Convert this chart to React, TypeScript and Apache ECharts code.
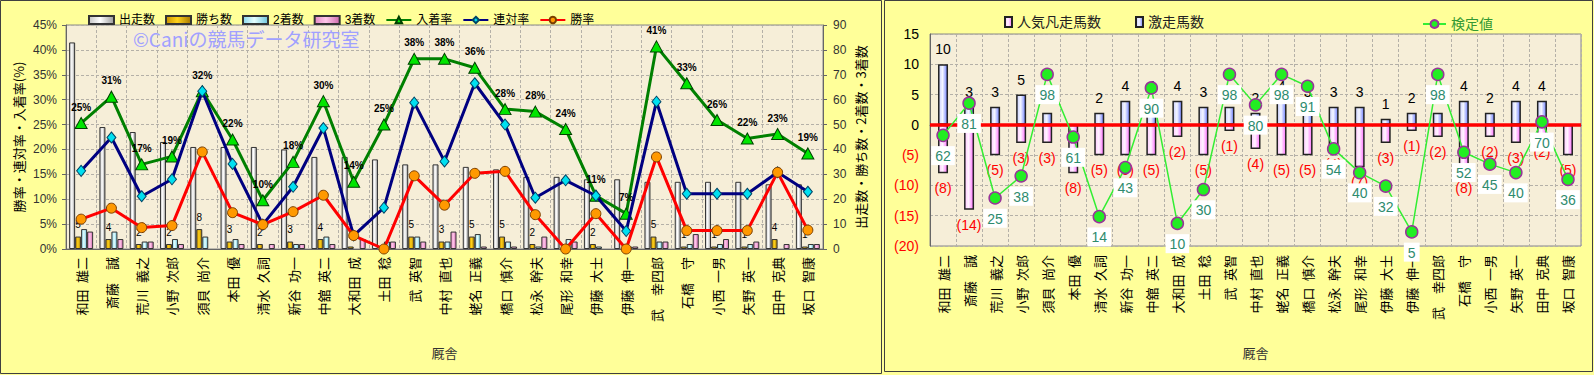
import React, { useEffect, useRef } from 'react';
import * as echarts from 'echarts';

// ---------- data ----------
const trainers = [
  '和田 雄二', '斎藤　誠', '荒川 義之', '小野 次郎', '須貝 尚介', '本田 優', '清水 久詞',
  '新谷 功一', '中舘 英二', '大和田 成', '土田 稔', '武 英智', '中村 直也', '蛯名 正義',
  '橋口 慎介', '松永 幹夫', '尾形 和幸', '伊藤 大士', '伊藤 伸一', '武　幸四郎', '石橋　守',
  '小西 一男', '矢野 英一', '田中 克典', '坂口 智康',
];

// left chart (counts on right axis, rates on left axis)
const starts = [83, 49, 47, 43, 41, 41, 41, 40, 37, 37, 36, 34, 34, 33, 32, 29, 29, 28, 28, 27, 27, 27, 27, 26, 26];
const wins = [5, 4, 2, 2, 8, 3, 2, 3, 4, 1, 0, 5, 3, 5, 5, 2, 0, 2, 0, 5, 1, 1, 1, 4, 1];
const seconds = [8, 7, 3, 4, 5, 4, 0, 2, 5, 0, 3, 5, 3, 6, 3, 1, 4, 1, 1, 3, 2, 2, 2, 0, 2];
const thirds = [7, 4, 3, 2, 0, 2, 2, 2, 2, 4, 3, 3, 7, 1, 1, 5, 3, 0, 1, 3, 6, 4, 3, 2, 2];
const placeRate = [25.3, 30.6, 17.0, 18.6, 31.7, 22.0, 9.8, 17.5, 29.7, 13.5, 25.0, 38.2, 38.2, 36.4, 28.1, 27.6, 24.1, 10.7, 7.1, 40.7, 33.3, 25.9, 22.2, 23.1, 19.2];
const quinellaRate = [15.7, 22.4, 10.6, 14.0, 31.7, 17.1, 4.9, 12.5, 24.3, 2.7, 8.3, 29.4, 17.6, 33.3, 25.0, 10.3, 13.8, 10.7, 3.6, 29.6, 11.1, 11.1, 11.1, 15.4, 11.5];
const winRate = [6.0, 8.2, 4.3, 4.7, 19.5, 7.3, 4.9, 7.5, 10.8, 2.7, 0, 14.7, 8.8, 15.2, 15.6, 6.9, 0, 7.1, 0, 18.5, 3.7, 3.7, 3.7, 15.4, 3.8];

// right chart
const gekisou = [10, 3, 3, 5, 2, 0, 2, 4, 4, 4, 3, 3, 2, 4, 3, 3, 3, 1, 2, 2, 4, 2, 4, 4, 0];
const ninkiBonsou = [8, 14, 5, 3, 3, 8, 5, 5, 5, 2, 5, 1, 4, 5, 5, 4, 7, 3, 1, 2, 8, 2, 3, 2, 5];
const kenteichi = [62, 81, 25, 38, 98, 61, 14, 43, 90, 10, 30, 98, 80, 98, 91, 54, 40, 32, 5, 98, 52, 45, 40, 70, 36];

const FONT = "'Liberation Sans', 'Noto Sans CJK JP', sans-serif";
const JFONT = "'Noto Sans CJK JP', sans-serif";

// wider (en) space between family and given name, as in the original axis labels
const axisName = (s: string) => s.replace(/ /g, '\u2002');

const grad = (a: string, b: string, c: string) =>
  new echarts.graphic.LinearGradient(0, 0, 1, 0, [
    { offset: 0, color: a },
    { offset: 0.45, color: b },
    { offset: 1, color: c },
  ]);

const noZero = (arr: number[]) => arr.map((v) => (v === 0 ? '-' : v));

export default function App() {
  const ref = useRef<HTMLDivElement>(null);

  useEffect(() => {
    if (!ref.current) return;
    const chart = echarts.init(ref.current, undefined, { renderer: 'svg' });

    const gridLine = { show: true, lineStyle: { color: '#b4b0a8', type: [3, 2] as any, width: 1 } };
    const xLabel = (margin: number) => ({
      rotate: 90, interval: 0, fontSize: 13, color: '#000', margin, fontFamily: JFONT,
      formatter: (v: string) => axisName(v),
    });

    const option: any = {
      animation: false,
      backgroundColor: '#ffff99',
      textStyle: { fontFamily: FONT },
      graphic: [
        { type: 'rect', shape: { x: 0.5, y: 0.5, width: 881, height: 373 }, style: { fill: 'none', stroke: '#404040', lineWidth: 1 } },
        { type: 'rect', shape: { x: 884.5, y: 0.5, width: 708, height: 371 }, style: { fill: 'none', stroke: '#404040', lineWidth: 1 } },
        {
          type: 'text', left: 133, top: 29, z: 50,
          style: { text: '©Caniの競馬データ研究室', fill: '#a0a0ff', font: `19px ${JFONT}` },
        },
      ],
      legend: [
        {
          left: 83, top: 9, itemWidth: 25, itemHeight: 8, itemGap: 10,
          textStyle: { fontSize: 12, color: '#000', fontFamily: FONT },
          data: [
            { name: '出走数', icon: 'rect' },
            { name: '勝ち数', icon: 'rect' },
            { name: '2着数', icon: 'rect' },
            { name: '3着数', icon: 'rect' },
            { name: '入着率' },
            { name: '連対率' },
            { name: '勝率' },
          ],
        },
        {
          left: 999, top: 10, itemWidth: 7, itemHeight: 10, itemGap: 34,
          textStyle: { fontSize: 14, color: '#222', fontFamily: FONT },
          data: [
            { name: '人気凡走馬数', icon: 'rect' },
            { name: '激走馬数', icon: 'rect' },
          ],
        },
        {
          left: 1417, top: 12, itemWidth: 23, itemHeight: 10,
          textStyle: { fontSize: 14, color: '#339933', fontFamily: FONT },
          data: [{ name: '検定値' }],
        },
      ],
      grid: [
        { left: 66, top: 25, width: 757, height: 224, show: true, backgroundColor: '#f6eed8', borderColor: '#888', borderWidth: 1 },
        { left: 930, top: 34, width: 651, height: 212, show: true, backgroundColor: '#f6eed8', borderColor: '#888', borderWidth: 1 },
      ],
      xAxis: [
        {
          type: 'category', gridIndex: 0, data: trainers,
          axisLine: { lineStyle: { color: '#666' } }, axisTick: { show: false },
          axisLabel: xLabel(8),
          splitLine: gridLine,
          name: '厩舎', nameLocation: 'middle', nameGap: 97,
          nameTextStyle: { fontSize: 13, color: '#333', fontFamily: JFONT },
        },
        {
          type: 'category', gridIndex: 1, data: trainers,
          axisLine: { lineStyle: { color: '#666' } }, axisTick: { show: false },
          axisLabel: xLabel(9),
          splitLine: gridLine,
          name: '厩舎', nameLocation: 'middle', nameGap: 100,
          nameTextStyle: { fontSize: 13, color: '#333', fontFamily: JFONT },
        },
      ],
      yAxis: [
        {
          type: 'value', gridIndex: 0, min: 0, max: 45, interval: 5, position: 'left',
          axisLine: { show: true, lineStyle: { color: '#666' } },
          axisTick: { show: true, length: 4, lineStyle: { color: '#666' } },
          axisLabel: { formatter: '{value}%', fontSize: 12, color: '#333', margin: 9 },
          splitLine: gridLine,
          name: '勝率・連対率・入着率(%)', nameLocation: 'middle', nameRotate: 90, nameGap: 41,
          nameTextStyle: { fontSize: 13, color: '#000', fontFamily: JFONT },
        },
        {
          type: 'value', gridIndex: 0, min: 0, max: 90, interval: 10, position: 'right',
          axisLine: { show: true, lineStyle: { color: '#666' } },
          axisTick: { show: true, length: 4, lineStyle: { color: '#666' } },
          axisLabel: { fontSize: 12, color: '#333', margin: 10 },
          splitLine: { show: false },
          name: '出走数・勝ち数・2着数・3着数', nameLocation: 'middle', nameRotate: 90, nameGap: 31,
          nameTextStyle: { fontSize: 13, color: '#000', fontFamily: JFONT },
        },
        {
          type: 'value', gridIndex: 1, min: -20, max: 15, interval: 5,
          axisLine: { show: true, lineStyle: { color: '#666' } },
          axisTick: { show: false },
          axisLabel: {
            fontSize: 14, margin: 11,
            formatter: (v: number) => (v < 0 ? `(${-v})` : String(v)),
            color: (v: any) => (Number(v) < 0 ? '#ff0000' : '#000'),
          },
          splitLine: gridLine,
        },
        {
          type: 'value', gridIndex: 1, min: -3.33, max: 121.85, show: false,
          splitLine: { show: false },
        },
      ],
      series: [
        {
          name: '出走数', type: 'bar', xAxisIndex: 0, yAxisIndex: 1, data: noZero(starts),
          barWidth: 6, barGap: '0%',
          itemStyle: { color: grad('#c4c4c4', '#ffffff', '#9a9a9a'), borderColor: '#333', borderWidth: 1 },
        },
        {
          name: '勝ち数', type: 'bar', xAxisIndex: 0, yAxisIndex: 1, data: noZero(wins),
          barWidth: 6, barGap: '0%',
          itemStyle: { color: grad('#c89000', '#ffd21a', '#a87800'), borderColor: '#333', borderWidth: 1 },
          label: {
            show: true, position: 'top', distance: 7, fontSize: 10, color: '#000',
            formatter: (p: any) => (p.value > 0 ? String(p.value) : ''),
          },
        },
        {
          name: '2着数', type: 'bar', xAxisIndex: 0, yAxisIndex: 1, data: noZero(seconds),
          barWidth: 6, barGap: '0%',
          itemStyle: { color: grad('#8ad8ee', '#e6ffff', '#6cc4dc'), borderColor: '#333', borderWidth: 1 },
        },
        {
          name: '3着数', type: 'bar', xAxisIndex: 0, yAxisIndex: 1, data: noZero(thirds),
          barWidth: 6, barGap: '0%',
          itemStyle: { color: grad('#e489c6', '#ffc6ea', '#cf6aae'), borderColor: '#333', borderWidth: 1 },
        },
        {
          name: '入着率', type: 'line', xAxisIndex: 0, yAxisIndex: 0, data: placeRate,
          symbol: 'triangle', symbolSize: [12, 11], showAllSymbol: true, z: 3,
          lineStyle: { color: '#008000', width: 3 },
          itemStyle: { color: '#00e600', borderColor: '#004000', borderWidth: 1 },
          label: {
            show: true, position: 'top', distance: 5, fontSize: 10, fontWeight: 'bold', color: '#000',
            formatter: (p: any) => `${Math.round(p.value)}%`,
          },
        },
        {
          name: '連対率', type: 'line', xAxisIndex: 0, yAxisIndex: 0, data: quinellaRate,
          symbol: 'diamond', symbolSize: [9, 11], showAllSymbol: true, z: 4,
          lineStyle: { color: '#000080', width: 3 },
          itemStyle: { color: '#00e0f0', borderColor: '#004466', borderWidth: 1 },
        },
        {
          name: '勝率', type: 'line', xAxisIndex: 0, yAxisIndex: 0, data: winRate,
          symbol: 'circle', symbolSize: 10, showAllSymbol: true, z: 5,
          lineStyle: { color: '#ff0000', width: 3 },
          itemStyle: { color: '#ff9900', borderColor: '#7a3d00', borderWidth: 1 },
        },
        {
          name: '人気凡走馬数', type: 'bar', xAxisIndex: 1, yAxisIndex: 2,
          data: ninkiBonsou.map((v) => (v === 0 ? '-' : -v)),
          barWidth: 10, barGap: '-100%',
          itemStyle: { color: grad('#ffc8ff', '#fff4ff', '#ff70ff'), borderColor: '#222', borderWidth: 1.5 },
          label: {
            show: true, position: 'bottom', distance: 8, fontSize: 14, color: '#ff0000',
            formatter: (p: any) => `(${-p.value})`,
          },
        },
        {
          name: '激走馬数', type: 'bar', xAxisIndex: 1, yAxisIndex: 2, data: noZero(gekisou),
          barWidth: 10, barGap: '-100%',
          itemStyle: { color: grad('#c8ceff', '#f4f6ff', '#7080ff'), borderColor: '#222', borderWidth: 1.5 },
          label: { show: true, position: 'top', distance: 8, fontSize: 14, color: '#000' },
          markLine: {
            silent: true, symbol: ['none', 'none'], label: { show: false },
            lineStyle: { color: '#ff0000', width: 3.5, type: 'solid' },
            data: [{ yAxis: 0 }],
          },
        },
        {
          name: '検定値', type: 'line', xAxisIndex: 1, yAxisIndex: 3, data: kenteichi,
          symbol: 'circle', symbolSize: 12, showAllSymbol: true, z: 6,
          lineStyle: { color: '#33ee33', width: 1.5 },
          itemStyle: { color: '#22ee22', borderColor: '#993399', borderWidth: 1.5 },
          label: {
            show: true, position: 'bottom', distance: 4, fontSize: 14, color: '#2e8b6e',
            backgroundColor: '#ffffff', padding: [3, 4, 2, 4],
          },
        },
      ],
    };

    chart.setOption(option);
    return () => chart.dispose();
  }, []);

  return (
    <div
      ref={ref}
      style={{ position: 'fixed', left: 0, top: 0, width: 1594, height: 375 }}
    />
  );
}
